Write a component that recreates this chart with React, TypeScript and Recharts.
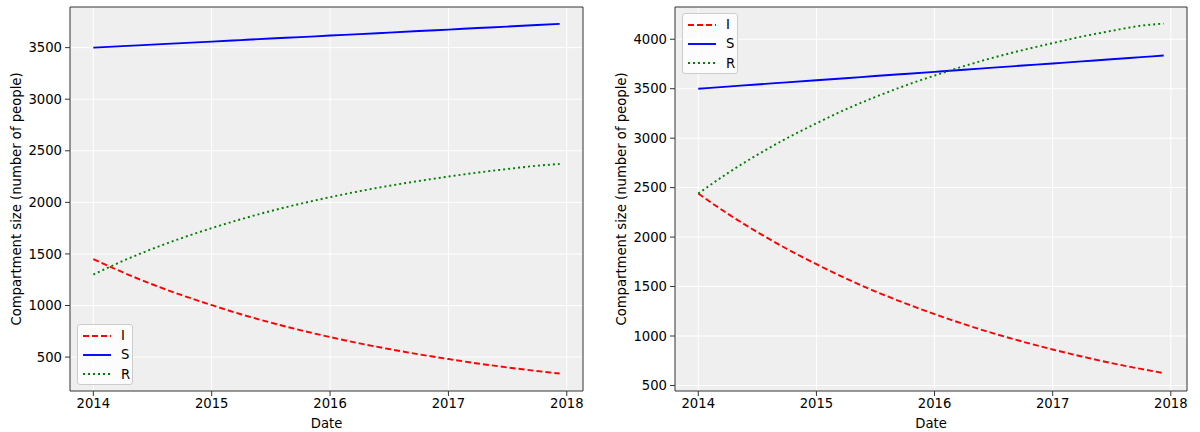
import React from 'react';
import { LineChart, Line, XAxis, YAxis, CartesianGrid, ReferenceArea, Label } from 'recharts';

// sample dates (quarterly, last one in december 2017)
const dates = [
  '2014-01-01', '2014-04-01', '2014-07-01', '2014-10-01',
  '2015-01-01', '2015-04-01', '2015-07-01', '2015-10-01',
  '2016-01-01', '2016-04-01', '2016-07-01', '2016-10-01',
  '2017-01-01', '2017-04-01', '2017-07-01', '2017-10-01',
  '2017-12-10',
];

// left panel
const leftI = [1450, 1323, 1206, 1100, 1004, 915, 835, 761, 694, 633, 578, 527, 481, 438, 400, 365, 340];
const leftS = [3500, 3515, 3529, 3544, 3558, 3573, 3588, 3602, 3617, 3631, 3646, 3661, 3675, 3690, 3704, 3719, 3730];
const leftR = [1300, 1430, 1548, 1654, 1750, 1836, 1915, 1986, 2050, 2108, 2160, 2207, 2250, 2289, 2323, 2355, 2372];

// right panel
const rightI = [2440, 2238, 2053, 1882, 1726, 1583, 1452, 1332, 1221, 1120, 1027, 942, 864, 793, 727, 667, 625];
const rightS = [3500, 3521, 3543, 3564, 3585, 3606, 3628, 3649, 3670, 3691, 3713, 3734, 3755, 3776, 3798, 3819, 3835];
const rightR = [2440, 2644, 2829, 2998, 3150, 3290, 3415, 3530, 3633, 3728, 3814, 3891, 3961, 4027, 4084, 4137, 4158];

const xTicks = [2014, 2015, 2016, 2017, 2018];
const leftYTicks = [500, 1000, 1500, 2000, 2500, 3000, 3500];
const rightYTicks = [500, 1000, 1500, 2000, 2500, 3000, 3500, 4000];

const xDomain: [number, number] = [2013.803, 2018.137];
const leftYDomain: [number, number] = [171, 3894];
const rightYDomain: [number, number] = [444, 4326];

const FONT = '"DejaVu Sans", sans-serif';
const FS = 13.2;

const toYear = (s: string) => {
  const d = new Date(s + 'T00:00:00Z');
  const y = d.getUTCFullYear();
  const a = Date.UTC(y, 0, 1);
  const b = Date.UTC(y + 1, 0, 1);
  return y + (d.getTime() - a) / (b - a);
};

const buildRows = (I: number[], S: number[], R: number[]) =>
  dates.map((d, i) => ({ t: toYear(d), I: I[i], S: S[i], R: R[i] }));

const series = [
  { key: 'I', color: '#ff0000', dash: '6 3' },
  { key: 'S', color: '#0000ff', dash: undefined },
  { key: 'R', color: '#008000', dash: '2 3' },
];

const LegendBox = ({ left, top }: { left: number; top: number }) => (
  <div
    style={{
      position: 'absolute', left, top, width: 56, height: 61,
      background: 'rgba(255,255,255,0.8)', border: '1px solid #cccccc', borderRadius: 3,
      boxSizing: 'border-box', fontFamily: FONT, fontSize: FS, color: '#000',
    }}
  >
    {series.map((s, i) => (
      <div key={s.key} style={{ position: 'absolute', left: 5, top: 1 + i * 19.3, height: 19, display: 'flex', alignItems: 'center' }}>
        <svg width={28} height={6} style={{ display: 'block' }}>
          <line x1={0} y1={3} x2={28} y2={3} stroke={s.color} strokeWidth={1.9} strokeDasharray={s.dash} />
        </svg>
        <span style={{ marginLeft: 10 }}>{s.key}</span>
      </div>
    ))}
  </div>
);

const YTitle = (props: any) => {
  const { viewBox, x0 } = props;
  const cy = viewBox.y + viewBox.height / 2;
  return (
    <text x={x0} y={cy} transform={`rotate(-90 ${x0} ${cy})`} textAnchor="middle" dominantBaseline="central"
      fontFamily={FONT} fontSize={FS} fill="#000">
      Compartment size (number of people)
    </text>
  );
};

const XTitle = (props: any) => {
  const { viewBox } = props;
  const cx = viewBox.x + viewBox.width / 2;
  return (
    <text x={cx} y={428} textAnchor="middle" fontFamily={FONT} fontSize={FS} fill="#000">Date</text>
  );
};

interface PanelProps {
  rows: any[];
  yDomain: [number, number];
  yTicks: number[];
  yWidth: number;
  right: number;
  titleX: number;
}

const Panel = ({ rows, yDomain, yTicks, yWidth, right, titleX }: PanelProps) => (
  <LineChart width={600} height={432} data={rows} margin={{ top: 7, right, left: 0, bottom: 0 }}>
    <CartesianGrid fill="#efefef" stroke="#ffffff" strokeWidth={1} horizontalValues={yTicks} verticalValues={xTicks} />
    <XAxis
      dataKey="t" type="number" domain={xDomain} ticks={xTicks} allowDataOverflow height={41}
      axisLine={false} tickSize={5} tickMargin={3} tickLine={{ stroke: '#333' }}
      tick={{ fill: '#000', fontSize: FS, fontFamily: FONT }}
    >
      <Label content={<XTitle />} />
    </XAxis>
    <YAxis
      type="number" domain={yDomain} ticks={yTicks} allowDataOverflow width={yWidth}
      axisLine={false} tickSize={5} tickMargin={3} tickLine={{ stroke: '#333' }}
      tick={{ fill: '#000', fontSize: FS, fontFamily: FONT }}
    >
      <Label content={<YTitle x0={titleX} />} />
    </YAxis>
    {series.map((s) => (
      <Line key={s.key} dataKey={s.key} type="monotone" stroke={s.color} strokeWidth={1.9}
        strokeDasharray={s.dash} dot={false} activeDot={false} isAnimationActive={false} />
    ))}
    <ReferenceArea x1={xDomain[0]} x2={xDomain[1]} y1={yDomain[0]} y2={yDomain[1]}
      fill="none" stroke="#333" strokeWidth={1} ifOverflow="extendDomain" />
  </LineChart>
);

export default function App() {
  const leftRows = buildRows(leftI, leftS, leftR);
  const rightRows = buildRows(rightI, rightS, rightR);
  return (
    <div style={{ position: 'absolute', left: 0, top: 0, width: 1200, height: 432, background: '#fff', fontFamily: FONT }}>
      <div style={{ position: 'absolute', left: 0, top: 0 }}>
        <Panel rows={leftRows} yDomain={leftYDomain} yTicks={leftYTicks} yWidth={70} right={17} titleX={16} />
      </div>
      <div style={{ position: 'absolute', left: 600, top: 0 }}>
        <Panel rows={rightRows} yDomain={rightYDomain} yTicks={rightYTicks} yWidth={75} right={13} titleX={21} />
      </div>
      <LegendBox left={77} top={324} />
      <LegendBox left={682} top={13} />
    </div>
  );
}
